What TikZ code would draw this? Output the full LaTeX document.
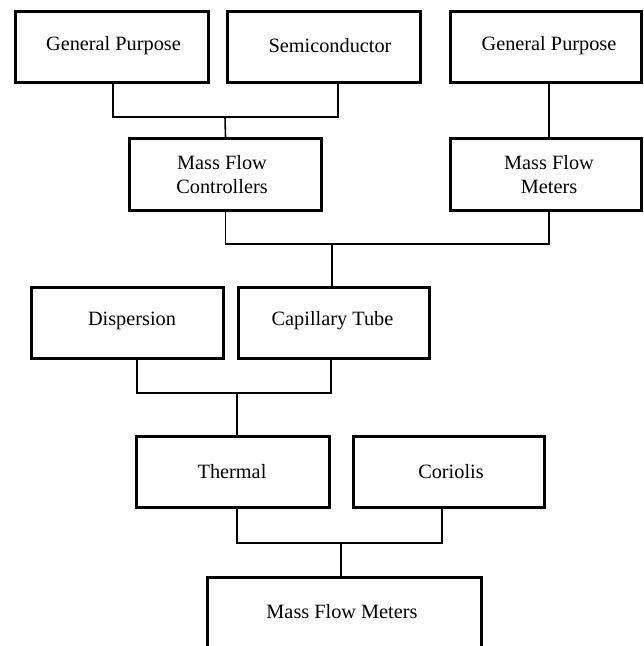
\documentclass[tikz,border=0pt]{standalone}
\usepackage{fontspec}
\setmainfont{Liberation Serif}
\begin{document}
\begin{tikzpicture}[x=1pt,y=-1pt,
  box/.style={draw=black, line width=3pt, fill=none, inner sep=0pt},
  lbl/.style={font=\fontsize{20.3}{24}\selectfont, align=center, inner sep=0pt},
  conn/.style={draw=black, line width=1.6pt}]
\clip (0,0) rectangle (644,646);
\fill[white] (0,0) rectangle (644,646);
% boxes
\node[box, minimum width=193pt, minimum height=71pt] (gp1) at (112,47) {};
\node[box, minimum width=193pt, minimum height=71pt] (semi) at (324,47) {};
\node[box, minimum width=191pt, minimum height=71pt] (gp2) at (546,47) {};
\node[box, minimum width=192pt, minimum height=72pt] (mfc) at (225.5,174.5) {};
\node[box, minimum width=191pt, minimum height=72pt] (mfm) at (546,174.5) {};
\node[box, minimum width=192pt, minimum height=71pt] (disp) at (127.5,323) {};
\node[box, minimum width=191pt, minimum height=71pt] (cap) at (334,323) {};
\node[box, minimum width=193pt, minimum height=71pt] (therm) at (233,472) {};
\node[box, minimum width=191pt, minimum height=71pt] (cor) at (449,472) {};
\node[box, minimum width=274pt, minimum height=137pt] (bot) at (344.5,646) {};
% labels
\node[lbl] (tgp1) at (113.5,46) {General Purpose};
\node[lbl] (tsemi) at (330,46) {Semiconductor};
\node[lbl] (tgp2) at (549,46) {General Purpose};
\node[lbl] (tmfc) at (222,175) {Mass Flow\\Controllers};
\node[lbl] (tmfm) at (549,175) {Mass Flow\\Meters};
\node[lbl] (tdisp) at (132,321) {Dispersion};
\node[lbl] (tcap) at (332.5,321) {Capillary Tube};
\node[lbl] (ttherm) at (232,472) {Thermal};
\node[lbl] (tcor) at (451,472) {Coriolis};
\node[lbl] (tbot) at (342,612) {Mass Flow Meters};
% junctions
\coordinate (j1) at (225,117);
\coordinate (j2) at (332,244);
\coordinate (j3) at (237,393);
\coordinate (j4) at (341,543);
% connectors
\draw[conn] ([xshift=0.7pt]gp1.south) |- (j1) -| ([xshift=14pt]semi.south);
\draw[conn] (j1) -- (mfc.north);
\draw[conn] ([xshift=3pt]gp2.south) -- ([xshift=3pt]mfm.north);
\draw[conn] (mfc.south) |- (j2) -| ([xshift=3pt]mfm.south);
\draw[conn] (j2) -- ([xshift=-2pt]cap.north);
\draw[conn] ([xshift=9.5pt]disp.south) |- (j3) -| ([xshift=-3pt]cap.south);
\draw[conn] (j3) -- ([xshift=4pt]therm.north);
\draw[conn] ([xshift=4pt]therm.south) |- (j4) -| ([xshift=-7pt]cor.south);
\draw[conn] (j4) -- ([xshift=-3.5pt]bot.north);
\end{tikzpicture}
\end{document}
